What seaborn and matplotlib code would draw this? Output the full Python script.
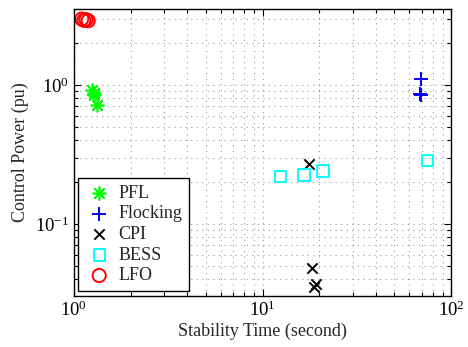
import matplotlib
matplotlib.use("Agg")
import matplotlib.pyplot as plt
import matplotlib.ticker as mticker
import seaborn as sns
import pandas as pd

# Data
pfl_time = [1.25, 1.27, 1.28, 1.33]
pfl_power = [0.92, 0.88, 0.84, 0.72]

flock_time = [69.0, 68.5, 69.5]
flock_power = [1.10, 0.86, 0.85]

cpi_time = [17.6, 18.3, 19.2, 18.8]
cpi_power = [0.27, 0.048, 0.037, 0.035]

bess_time = [12.5, 16.6, 20.9, 74.6]
bess_power = [0.22, 0.225, 0.24, 0.285]

lfo_time = [1.10, 1.13, 1.16, 1.19]
lfo_power = [2.98, 2.92, 2.95, 2.90]

methods = ["PFL", "Flocking", "CPI", "BESS", "LFO"]

sns.set_style("ticks")
plt.rcParams["font.family"] = ["Liberation Serif", "DejaVu Serif"]
plt.rcParams["mathtext.fontset"] = "custom"
plt.rcParams["mathtext.rm"] = "Liberation Serif"
plt.rcParams["mathtext.it"] = "Liberation Serif:italic"

fig = plt.figure(figsize=(4.68, 3.47), dpi=100)
ax = fig.add_axes([0.158, 0.147, 0.806, 0.828])

series = {
    "PFL": (pfl_time, pfl_power),
    "Flocking": (flock_time, flock_power),
    "CPI": (cpi_time, cpi_power),
    "BESS": (bess_time, bess_power),
    "LFO": (lfo_time, lfo_power),
}
style = {
    "PFL": dict(marker=(8, 2, 0), s=85, color="#00ff00", linewidths=1.2),
    "Flocking": dict(marker="+", s=100, color="#0000ff", linewidths=1.4),
    "CPI": dict(marker="x", s=55, color="black", linewidths=1.4),
    "BESS": dict(marker="s", s=65, facecolors="none", edgecolors="#00ffff", linewidths=1.4),
    "LFO": dict(marker="o", s=90, facecolors="none", edgecolors="#ff0000", linewidths=1.4),
}
for m in methods:
    t, p = series[m]
    df = pd.DataFrame({"time": t, "power": p})
    sns.scatterplot(data=df, x="time", y="power", ax=ax, label=m, **style[m])

ax.set_xscale("log")
ax.set_yscale("log")
ax.set_xlim(1, 100)
ax.set_ylim(0.0303, 3.54)

ax.xaxis.set_major_locator(mticker.LogLocator(base=10))
ax.xaxis.set_minor_locator(mticker.LogLocator(base=10, subs=range(2, 10)))
ax.yaxis.set_major_locator(mticker.LogLocator(base=10))
ax.yaxis.set_minor_locator(mticker.LogLocator(base=10, subs=range(2, 10)))
ax.xaxis.set_minor_formatter(mticker.NullFormatter())
ax.yaxis.set_minor_formatter(mticker.NullFormatter())
ax.xaxis.set_major_formatter(mticker.LogFormatterMathtext())
ax.yaxis.set_major_formatter(mticker.LogFormatterMathtext())

ax.grid(True, which="both", linestyle=(0, (1, 4)), color="#9a9a9a", linewidth=0.8)
ax.tick_params(which="both", direction="in", top=True, right=True, labelsize=13.5, colors="black")
ax.tick_params(which="major", length=5, width=0.8)
ax.tick_params(which="minor", length=3, width=0.8)
for sp in ax.spines.values():
    sp.set_visible(True)
    sp.set_color("black")
    sp.set_linewidth(1.0)

ax.set_xlabel("Stability Time (second)", fontsize=13, labelpad=2)
ax.set_ylabel("Control Power (pu)", fontsize=13, labelpad=4)

leg = ax.legend(loc="lower left", fontsize=13, frameon=True, fancybox=False,
                edgecolor="black", framealpha=1, borderpad=0.4, handletextpad=0.3,
                labelspacing=0.2, handlelength=1.5, borderaxespad=0.25)
leg.get_frame().set_linewidth(1.0)

fig.savefig("out.png", dpi=100)
